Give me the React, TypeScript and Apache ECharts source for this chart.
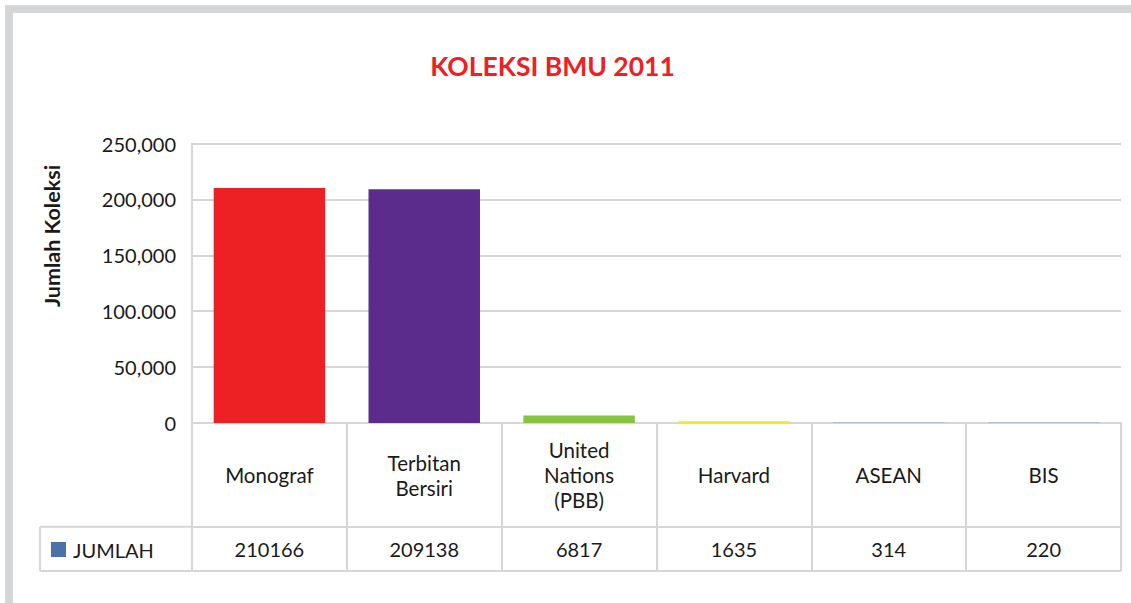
import React, { useEffect, useRef } from "react";
import * as echarts from "echarts";

const categories = ["Monograf", "Terbitan\nBersiri", "United\nNations\n(PBB)", "Harvard", "ASEAN", "BIS"];
const values = [210166, 209138, 6817, 1635, 314, 220];
const barColors = ["#ed2024", "#5b2c8c", "#86c440", "#f5e81a", "#4a72a9", "#4a72a9"];
const yTickLabels = ["0", "50,000", "100.000", "150,000", "200,000", "250,000"];
const seriesName = "JUMLAH";
const titleText = "KOLEKSI BMU 2011";
const yAxisName = "Jumlah Koleksi";

const FONT = "Lato, 'Open Sans', sans-serif";
const GRID_LINE = "#d6d6d6";
const TXT = "#1a1a1a";

export default function App() {
  const ref = useRef<HTMLDivElement>(null);
  useEffect(() => {
    if (!ref.current) return;
    const chart = echarts.init(ref.current, null, { renderer: "svg" });
    const gridLeft = 192;
    const gridRight = 10;
    const gridTop = 143.5;
    const axisY = 423;
    const rowY = 526.7;
    const bottomY = 571;
    const tableLeft = 40;
    chart.setOption({
      animation: false,
      backgroundColor: "#ffffff",
      textStyle: { fontFamily: FONT },
      grid: { left: gridLeft, right: gridRight, top: gridTop, bottom: 603 - axisY, containLabel: false },
      xAxis: [
        {
          type: "category",
          data: categories,
          position: "bottom",
          axisLine: { show: true, lineStyle: { color: GRID_LINE, width: 2 } },
          axisTick: { show: true, length: bottomY - axisY, inside: false, lineStyle: { color: GRID_LINE, width: 2 } },
          axisLabel: {
            interval: 0,
            margin: 52,
            verticalAlign: "middle",
            fontSize: 20.5,
            lineHeight: 25,
            color: TXT,
            fontFamily: FONT,
          },
        },
        {
          type: "category",
          data: values.map((v) => String(v)),
          position: "bottom",
          offset: rowY - axisY,
          axisLine: { show: true, lineStyle: { color: GRID_LINE, width: 2 } },
          axisTick: { show: false },
          axisLabel: {
            interval: 0,
            margin: 22,
            verticalAlign: "middle",
            fontSize: 20,
            color: TXT,
            fontFamily: FONT,
          },
        },
      ],
      yAxis: {
        type: "value",
        min: 0,
        max: 250000,
        interval: 50000,
        axisLine: { show: true, lineStyle: { color: GRID_LINE, width: 2 } },
        axisTick: { show: false },
        splitLine: { show: true, lineStyle: { color: GRID_LINE, width: 2 } },
        axisLabel: {
          margin: 16,
          fontSize: 20,
          color: TXT,
          fontFamily: FONT,
          formatter: (v: number) => yTickLabels[Math.round(v / 50000)] ?? String(v),
        },
      },
      series: [
        {
          name: seriesName,
          type: "bar",
          xAxisIndex: 0,
          barWidth: "72%",
          data: values.map((v, i) => ({ value: v, itemStyle: { color: barColors[i] } })),
        },
      ],
      graphic: [
        { type: "rect", shape: { x: 5, y: 5, width: 1126, height: 8 }, style: { fill: "#d5d6d7" } },
        { type: "rect", shape: { x: 5, y: 5, width: 8, height: 598 }, style: { fill: "#d5d6d7" } },
        {
          type: "text",
          x: 552.5,
          y: 66,
          style: {
            text: titleText,
            fill: "#ed2024",
            fontSize: 26.5,
            fontWeight: "bold",
            fontFamily: FONT,
            align: "center",
            verticalAlign: "middle",
          },
        },
        {
          type: "text",
          x: 52,
          y: 236,
          rotation: Math.PI / 2,
          style: {
            text: yAxisName,
            fill: TXT,
            fontSize: 21.5,
            fontWeight: "bold",
            fontFamily: FONT,
            align: "center",
            verticalAlign: "middle",
          },
        },
        { type: "line", shape: { x1: tableLeft, y1: rowY, x2: gridLeft, y2: rowY }, style: { stroke: GRID_LINE, lineWidth: 2 } },
        { type: "line", shape: { x1: tableLeft, y1: bottomY, x2: 1131 - gridRight, y2: bottomY }, style: { stroke: GRID_LINE, lineWidth: 2 } },
        { type: "line", shape: { x1: tableLeft, y1: rowY, x2: tableLeft, y2: bottomY }, style: { stroke: GRID_LINE, lineWidth: 2 } },
        { type: "rect", shape: { x: 51, y: 542, width: 15, height: 15 }, style: { fill: "#4a72a9" } },
        {
          type: "text",
          x: 73,
          y: 549.5,
          style: { text: seriesName, fontSize: 20, fill: TXT, fontFamily: FONT, verticalAlign: "middle" },
        },
      ],
    });
    return () => chart.dispose();
  }, []);
  return <div ref={ref} style={{ position: "absolute", left: 0, top: 0, width: 1131, height: 603 }} />;
}
